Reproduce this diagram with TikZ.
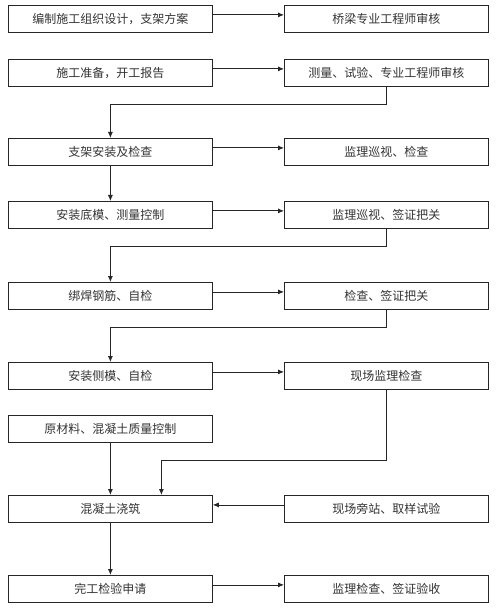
\documentclass[tikz,border=0pt]{standalone}
\usepackage{fontspec}
\setmainfont{Noto Sans CJK SC}
\usetikzlibrary{arrows.meta}
\begin{document}
\begin{tikzpicture}[x=1pt,y=-1pt,
  box/.style={draw=black!85, line width=0.8pt, minimum width=204pt, minimum height=27pt, inner sep=0pt, anchor=north west, font=\fontsize{12}{14}\selectfont, text=black!80},
  arr/.style={draw=black!85, line width=0.8pt, -{Latex[length=6pt,width=5pt]}}]
\useasboundingbox (0,0) rectangle (500,609);
\node[box] (L1) at (8,5) {编制施工组织设计，支架方案};
\node[box] (R1) at (284,5) {桥梁专业工程师审核};
\node[box] (L2) at (8,59) {施工准备，开工报告};
\node[box] (R2) at (284,59) {测量、试验、专业工程师审核};
\node[box] (L3) at (8,138) {支架安装及检查};
\node[box] (R3) at (284,138) {监理巡视、检查};
\node[box] (L4) at (8,201) {安装底模、测量控制};
\node[box] (R4) at (284,201) {监理巡视、签证把关};
\node[box] (L5) at (8,282) {绑焊钢筋、自检};
\node[box] (R5) at (284,282) {检查、签证把关};
\node[box] (L6) at (8,362) {安装侧模、自检};
\node[box] (R6) at (284,362) {现场监理检查};
\node[box] (L7) at (8,415) {原材料、混凝土质量控制};
\node[box] (L8) at (8,495) {混凝土浇筑};
\node[box] (R8) at (284,495) {现场旁站、取样试验};
\node[box] (L9) at (8,575) {完工检验申请};
\node[box] (R9) at (284,575) {监理检查、签证验收};
\foreach \a/\b in {L1/R1,L2/R2,L3/R3,L4/R4,L5/R5,L6/R6,L9/R9}
  \draw[arr] ([yshift=4pt]\a.east) -- ([yshift=4pt]\b.west);
\draw[arr] ([yshift=4pt]R8.west) -- ([yshift=4pt]L8.east);
\draw[arr] (R2.south) -- ++(0,18) -| (L3.north);
\draw[arr] (L3.south) -- (L4.north);
\draw[arr] (R4.south) -- ++(0,18) -| (L5.north);
\draw[arr] (R5.south) -- ++(0,18) -| (L6.north);
\draw[arr] (R6.south) -- ++(0,71) -| ([xshift=51pt]L8.north);
\draw[arr] (L7.south) -- (L8.north);
\draw[arr] (L8.south) -- (L9.north);
\end{tikzpicture}
\end{document}
